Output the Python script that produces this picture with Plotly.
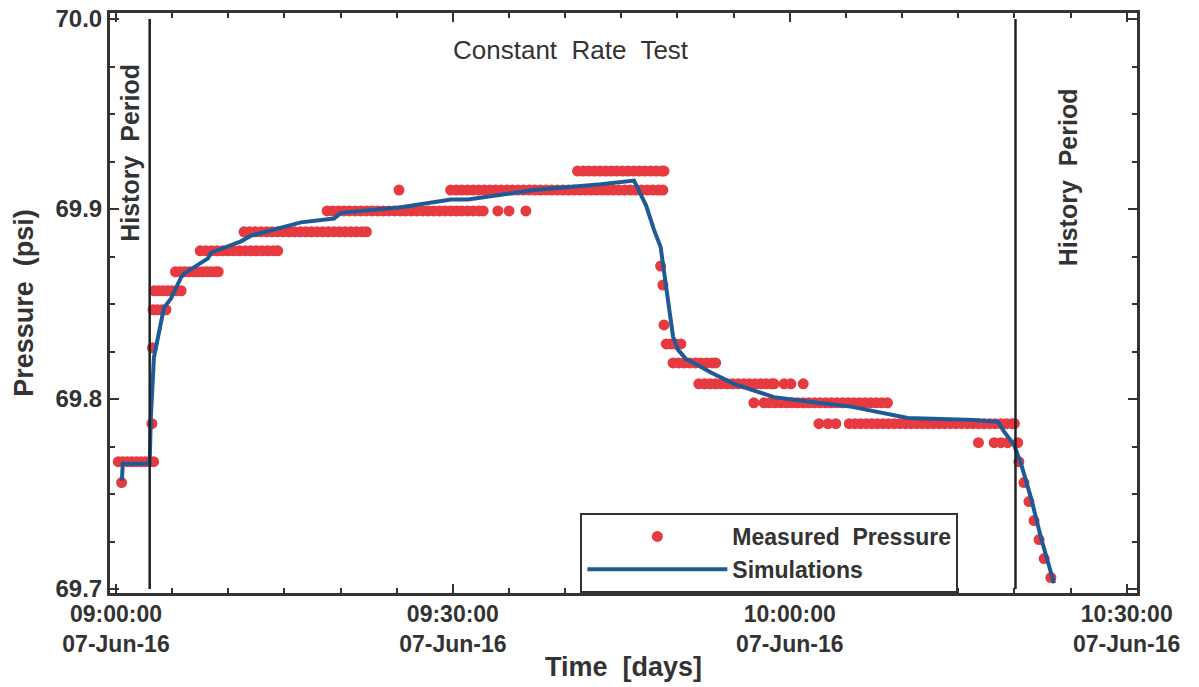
import pandas as pd
import plotly.graph_objects as go

BASE = pd.Timestamp("2016-06-07 09:00:00")

# ---------------- Measured pressure (minutes after 09:00, psi) ----------------
meas_levels = [
    69.767, 69.756, 69.787, 69.827, 69.847, 69.857, 69.867, 69.878, 69.888,
    69.899, 69.910, 69.920,
    69.870, 69.860, 69.839, 69.829, 69.819, 69.808, 69.798, 69.787, 69.777,
    69.767, 69.756, 69.746, 69.736, 69.726, 69.716, 69.706,
]
meas_minutes = [
    [0.2, 0.6, 1.0, 1.4, 1.8, 2.2, 2.6, 3.0, 3.35],
    [0.5],
    [3.2],
    [3.25],
    [3.3, 3.7, 4.1, 4.45],
    [3.4, 3.8, 4.2, 4.6, 5.0, 5.4, 5.8],
    [5.3, 5.7, 6.1, 6.5, 6.9, 7.3, 7.7, 8.1, 8.5, 8.9, 9.1],
    [7.5, 8.0, 8.5, 9.0, 9.5, 10.0, 10.5, 11.0, 11.5, 12.0, 12.5, 13.0, 13.5, 14.0, 14.4],
    [11.4, 11.9, 12.4, 12.9, 13.4, 13.9, 14.4, 14.9, 15.4, 15.9, 16.4, 16.9, 17.4, 17.9,
     18.4, 18.9, 19.4, 19.9, 20.4, 20.9, 21.4, 21.9, 22.3],
    [18.8, 19.3, 19.8, 20.3, 20.8, 21.3, 21.8, 22.3, 22.8, 23.3, 23.8, 24.3, 24.8, 25.3,
     25.8, 26.3, 26.8, 27.3, 27.8, 28.3, 28.8, 29.3, 29.8, 30.3, 30.8, 31.3, 31.8, 32.3,
     32.7, 34.0, 35.0, 36.5],
    [25.2, 29.8, 30.3, 30.8, 31.3, 31.8, 32.3, 32.8, 33.3, 33.8, 34.3, 34.8, 35.3, 35.8,
     36.3, 36.8, 37.3, 37.8, 38.3, 38.8, 39.3, 39.8, 40.3, 40.8, 41.3, 41.8, 42.3, 42.8,
     43.3, 43.8, 44.3, 44.8, 45.3, 45.8, 46.3, 46.8, 47.3, 47.8, 48.3, 48.7],
    [41.1, 41.6, 42.1, 42.6, 43.1, 43.6, 44.1, 44.6, 45.1, 45.6, 46.1, 46.6, 47.1, 47.6,
     48.1, 48.6, 48.8],
    [48.5],
    [48.7],
    [48.8],
    [49.0, 49.4, 49.8, 50.3],
    [49.6, 50.1, 50.6, 51.1, 51.6, 52.1, 52.6, 53.1, 53.4],
    [51.9, 52.4, 52.9, 53.4, 53.9, 54.4, 54.9, 55.4, 55.9, 56.4, 56.9, 57.4, 57.9, 58.4,
     58.6, 59.5, 60.1, 61.2],
    [56.8, 57.7, 58.2, 58.7, 59.2, 59.7, 60.2, 60.7, 61.2, 61.7, 62.2, 62.7, 63.2, 63.7,
     64.2, 64.7, 65.2, 65.7, 66.2, 66.7, 67.2, 67.7, 68.2, 68.7],
    [62.6, 63.4, 64.1, 65.3, 65.8, 66.3, 66.8, 67.3, 67.8, 68.3, 68.8, 69.3, 69.8, 70.3,
     70.8, 71.3, 71.8, 72.3, 72.8, 73.3, 73.8, 74.3, 74.8, 75.3, 75.8, 76.3, 76.8, 77.3,
     77.8, 78.3, 78.8, 79.3, 79.8, 80.0],
    [76.8, 78.2, 78.8, 79.4, 80.3],
    [80.4],
    [80.85],
    [81.3],
    [81.75],
    [82.2],
    [82.65],
    [83.25],
]

# ---------------- Simulation (minutes after 09:00, psi) ----------------
sim_minutes = [0.53, 0.6, 3.0, 3.1, 3.38, 4.27, 4.9, 5.79, 6.06, 8.19, 8.46, 11.13,
               12.02, 14.69, 16.47, 19.41, 20.04, 25.38, 29.83, 31.34, 37.22, 43.19,
               46.13, 47.2, 47.91, 48.5, 48.71, 49.24, 49.6, 50.04, 50.76, 51.47,
               52.98, 55.03, 58.59, 62.51, 65.45, 70.52, 76.4, 78.54, 79.07, 79.96,
               80.59, 81.48, 82.37, 83.53]
sim_psi = [69.757, 69.766, 69.766, 69.79, 69.822, 69.848, 69.853, 69.864, 69.866,
           69.874, 69.877, 69.883, 69.886, 69.890, 69.893, 69.895, 69.898, 69.901,
           69.905, 69.905, 69.910, 69.913, 69.915, 69.902, 69.889, 69.880, 69.871,
           69.845, 69.833, 69.826, 69.821, 69.819, 69.814, 69.808, 69.801, 69.798,
           69.796, 69.790, 69.789, 69.788, 69.783, 69.776, 69.766, 69.748, 69.727,
           69.703]

# Period boundaries (minutes after 09:00)
history_end_min = 3.0
history_start_min = 80.1

def to_time(mins):
    return [BASE + pd.Timedelta(minutes=m) for m in mins]

mx, my = [], []
for lvl, times in zip(meas_levels, meas_minutes):
    mx.extend(times)
    my.extend([lvl] * len(times))

FONT = "Liberation Sans, Arial, sans-serif"
INK = "#333333"

fig = go.Figure()
fig.add_trace(go.Scatter(
    x=to_time(mx), y=my, mode="markers", name="Measured  Pressure",
    marker=dict(color="#e63a40", size=11, line=dict(width=0)),
))
fig.add_trace(go.Scatter(
    x=to_time(sim_minutes), y=sim_psi, mode="lines", name="Simulations",
    line=dict(color="#1e5b96", width=4),
))

for m in (history_end_min, history_start_min):
    t = BASE + pd.Timedelta(minutes=m)
    fig.add_shape(type="line", x0=t, x1=t, y0=69.7, y1=70.0, xref="x", yref="y",
                  line=dict(color="#222222", width=2.5), layer="above")

fig.add_annotation(text="Constant  Rate  Test", x=0.449, y=0.937, xref="paper", yref="paper",
                   xanchor="center", yanchor="middle", showarrow=False,
                   font=dict(family=FONT, size=26, color=INK))
fig.add_annotation(text="History  Period", x=0.0195, y=0.759, xref="paper", yref="paper",
                   xanchor="center", yanchor="middle", textangle=-90, showarrow=False,
                   font=dict(family=FONT, size=25, color=INK, weight="bold"))
fig.add_annotation(text="History  Period", x=0.933, y=0.717, xref="paper", yref="paper",
                   xanchor="center", yanchor="middle", textangle=-90, showarrow=False,
                   font=dict(family=FONT, size=25, color=INK, weight="bold"))

axis_common = dict(
    showline=True, linewidth=3, linecolor=INK, mirror="allticks",
    ticks="inside", ticklen=9, tickwidth=2, tickcolor=INK,
    showgrid=False, zeroline=False,
)

fig.update_xaxes(
    type="date",
    range=[BASE - pd.Timedelta(seconds=32), BASE + pd.Timedelta(minutes=90.92)],
    tick0=BASE, dtick=30 * 60 * 1000,
    tickformat="%H:%M:%S<br>%d-%b-%y",
    tickfont=dict(family=FONT, size=23, color=INK, weight="bold"),
    ticklabelstandoff=-2,
    minor=dict(dtick=5 * 60 * 1000, ticks="inside", ticklen=5, tickwidth=1.5, tickcolor=INK),
    title=dict(text="Time  [days]", font=dict(family=FONT, size=27, color=INK, weight="bold"),
               standoff=2),
    **axis_common,
)
fig.update_yaxes(
    range=[69.6979, 70.0032],
    tick0=69.7, dtick=0.1, tickformat=".1f",
    tickfont=dict(family=FONT, size=24, color=INK, weight="bold"),
    minor=dict(dtick=0.025, tick0=69.7, ticks="inside", ticklen=5, tickwidth=1.5, tickcolor=INK),
    title=dict(text="Pressure  (psi)", font=dict(family=FONT, size=27, color=INK, weight="bold"),
               standoff=15),
    **axis_common,
)

fig.update_layout(
    width=1199, height=687,
    margin=dict(l=110, r=62, t=13, b=94, autoexpand=False),
    paper_bgcolor="white", plot_bgcolor="white",
    showlegend=True,
    legend=dict(x=0.458, y=0.138, xanchor="left", yanchor="top",
                bordercolor=INK, borderwidth=2, bgcolor="white",
                font=dict(family=FONT, size=23, color=INK, weight="bold"),
                itemwidth=140, tracegroupgap=0),
)

fig.write_html("out.html")
